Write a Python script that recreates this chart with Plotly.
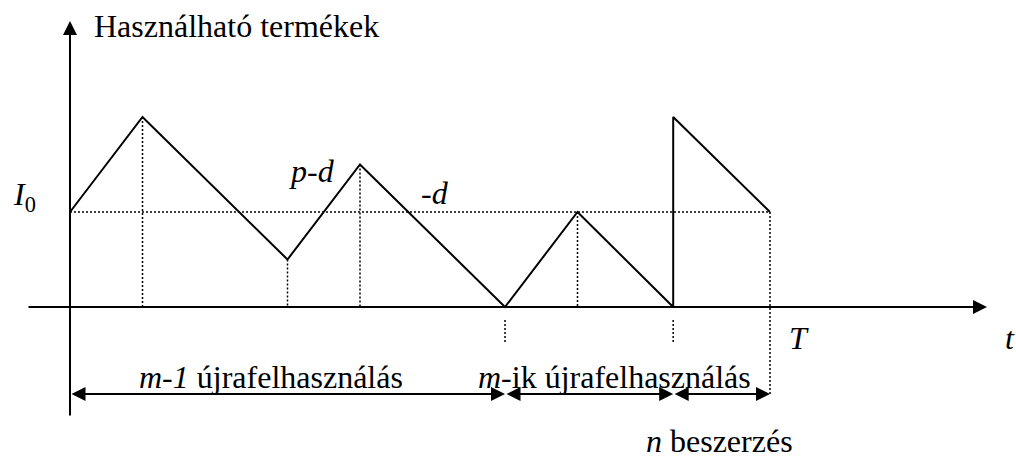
import plotly.graph_objects as go

# inventory of usable products over time (I0 = 1)
t_pts = [0, 1, 3, 4, 6, 7, 8.32, 8.32, 9.655]
inv = [1, 2, 0.5, 1.5, 0, 1, 0, 2, 1]
I0 = 1
T = 9.655

# dotted guides from the peaks / troughs down to the time axis
guide_t = [1, 3, 4, 7]
guide_top = [2, 0.5, 1.5, 1]
# short dotted ticks under the axis at the cycle boundaries
cycle_t = [6, 8.32]

W, H = 1016, 459
X0, SX = 70, 72.5      # pixel of t=0, pixels per time unit
Y0, SY = 307, 95       # pixel of level 0, pixels per unit of stock
FONT = "Liberation Serif"
FS = 32
DOT = dict(color="black", width=1.5, dash="2px,2px")


def dx(px):
    return (px - X0) / SX


def dy(px):
    return (Y0 - px) / SY


fig = go.Figure()

# dotted level I0
fig.add_trace(go.Scatter(x=[0, T], y=[I0, I0], mode="lines", line=DOT,
                         hoverinfo="skip"))
for tt, top in zip(guide_t, guide_top):
    fig.add_trace(go.Scatter(x=[tt, tt], y=[top, 0], mode="lines", line=DOT,
                             hoverinfo="skip"))
for tt in cycle_t:
    fig.add_trace(go.Scatter(x=[tt, tt], y=[dy(320), dy(344)], mode="lines",
                             line=DOT, hoverinfo="skip"))
fig.add_trace(go.Scatter(x=[T, T], y=[I0, dy(394)], mode="lines", line=DOT,
                         hoverinfo="skip"))

# inventory curve
fig.add_trace(go.Scatter(x=t_pts, y=inv, mode="lines",
                         line=dict(color="black", width=2),
                         hoverinfo="skip"))

arrows = []


def arrow(x0, y0, x1, y1, both=False):
    a = dict(x=x1, y=y1, ax=x0, ay=y0, xref="x", yref="y", axref="x", ayref="y",
             text="", showarrow=True, arrowhead=2, arrowsize=1.4, arrowwidth=2,
             arrowcolor="black", standoff=0, startstandoff=0)
    if both:
        a.update(arrowside="end+start", startarrowhead=2, startarrowsize=1.4)
    arrows.append(a)


# axes
arrow(dx(27), 0, dx(987), 0)
arrow(0, dy(417), 0, dy(21))

# period spans
yb = dy(394)
arrow(0, yb, cycle_t[0], yb, both=True)
arrow(cycle_t[0], yb, cycle_t[1], yb, both=True)
arrow(cycle_t[1], yb, T, yb, both=True)


def label(text, left_px, base_px, size=FS):
    top_px = base_px - 0.891 * size - 1
    return dict(x=(left_px - 1) / W, y=1 - top_px / H, xref="paper", yref="paper",
                xanchor="left", yanchor="top", showarrow=False, text=text,
                font=dict(family=FONT, size=size, color="black"))


labels = [
    label("Használható termékek", 93, 36),
    label("<i>I</i><sub>0</sub>", 12, 204),
    label("<i>p-d</i>", 288, 181),
    label("<i>-d</i>", 420, 203),
    label("<i>T</i>", 788, 348),
    label("<i>t</i>", 1004, 348),
    label("<i>m-1</i> újrafelhasználás", 138, 387),
    label("<i>m</i>-ik újrafelhasználás", 477, 387),
    label("<i>n</i> beszerzés", 645, 451),
]

fig.update_layout(
    width=W, height=H, autosize=False,
    margin=dict(l=0, r=0, t=0, b=0),
    paper_bgcolor="white", plot_bgcolor="white",
    showlegend=False,
    xaxis=dict(range=[dx(0), dx(W)], visible=False, fixedrange=True),
    yaxis=dict(range=[dy(H), dy(0)], visible=False, fixedrange=True),
    annotations=arrows + labels,
)

fig.write_html("out.html", config={"displayModeBar": False},
               post_script="document.body.style.margin='0';")
